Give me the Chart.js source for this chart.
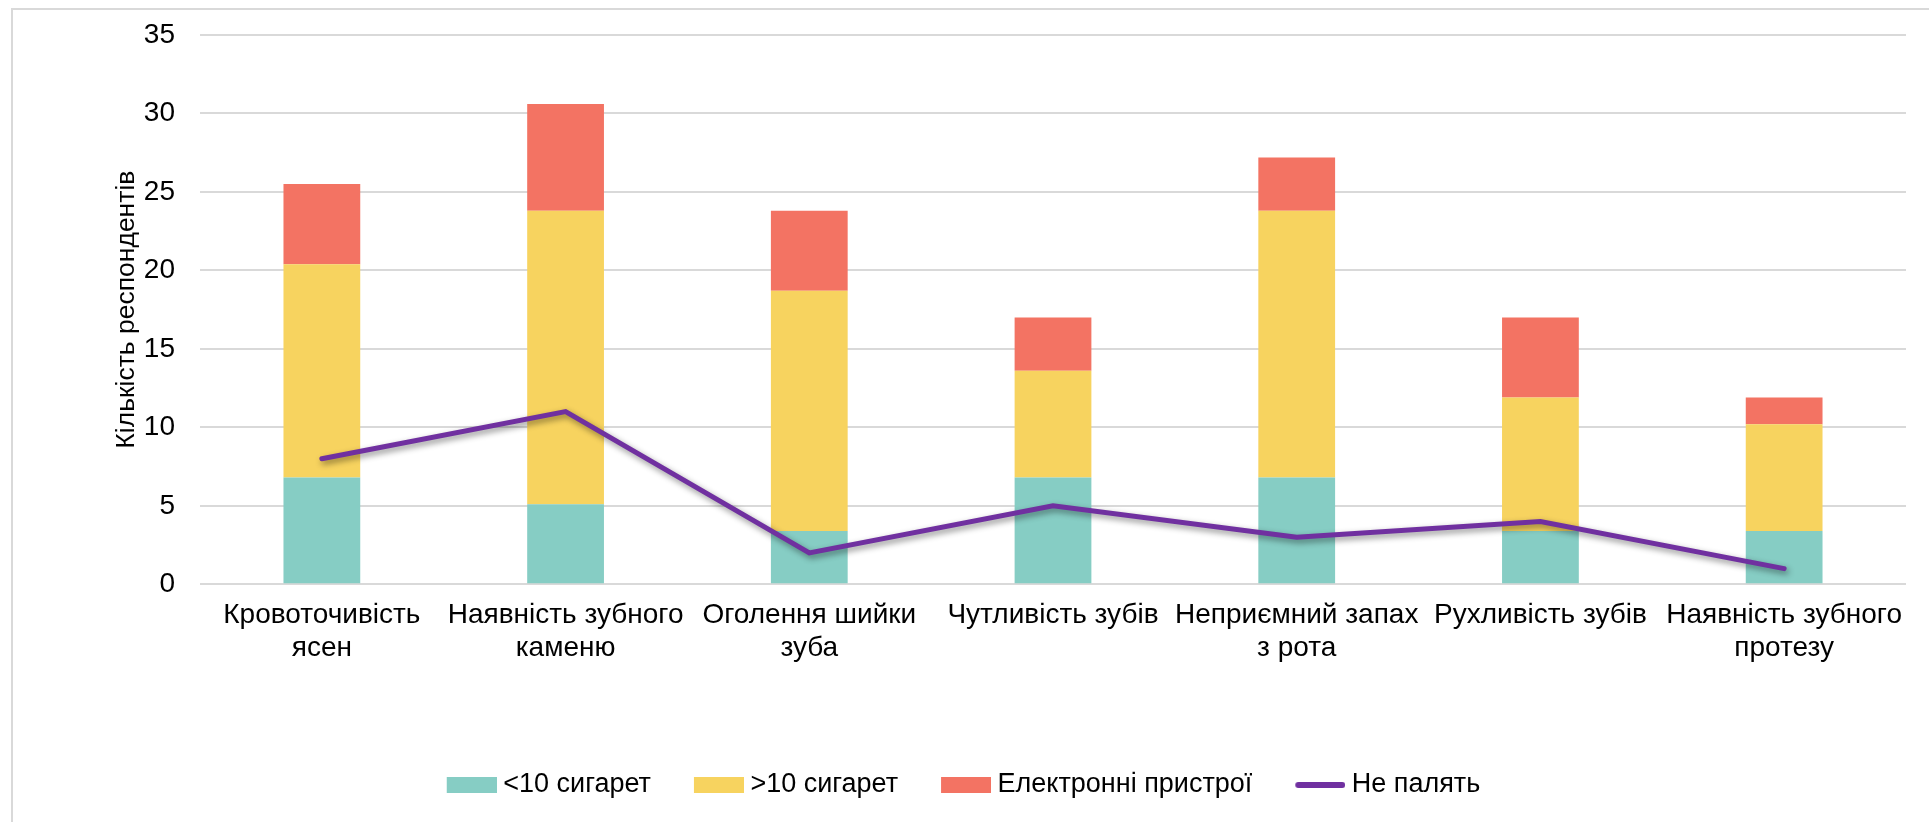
<!DOCTYPE html>
<html><head><meta charset="utf-8">
<script src="https://cdn.jsdelivr.net/npm/chart.js@4.4.0/dist/chart.umd.min.js"></script>
<style>html,body{margin:0;padding:0;background:#fff;overflow:hidden}</style>
</head><body>
<canvas id="c" width="1929" height="822" style="display:block;width:1929px;height:822px"></canvas>
<script>
const categories = [["Кровоточивість","ясен"],["Наявність зубного","каменю"],["Оголення шийки","зуба"],["Чутливість зубів"],["Неприємний запах","з рота"],["Рухливість зубів"],["Наявність зубного","протезу"]];
const lessThan10 = [6.8, 5.1, 3.4, 6.8, 6.8, 3.4, 3.4];
const moreThan10 = [13.6, 18.7, 15.3, 6.8, 17.0, 8.5, 6.8];
const electronic = [5.1, 6.8, 5.1, 3.4, 3.4, 5.1, 1.7];
const nonSmokers = [8, 11, 2, 5, 3, 4, 1];
const seriesNames = ["<10 сигарет", ">10 сигарет", "Електронні пристрої", "Не палять"];
const yMin = 0, yMax = 35, yStep = 5;
const yTitle = "Кількість респондентів";

const colors = ['#86CDC4', '#F7D35F', '#F37363', '#7030A0'];
const FONT = "'Liberation Sans', Arial, sans-serif";

function swatch(color, kind) {
  const c = document.createElement('canvas');
  c.width = 57; c.height = 16;
  const x = c.getContext('2d');
  if (kind === 'bar') { x.fillStyle = color; x.fillRect(7, 0, 50, 16); }
  else { x.strokeStyle = color; x.lineWidth = 6; x.lineCap = 'round'; x.beginPath(); x.moveTo(10, 8); x.lineTo(54, 8); x.stroke(); }
  return c;
}
const swatches = [swatch(colors[0],'bar'), swatch(colors[1],'bar'), swatch(colors[2],'bar'), swatch(colors[3],'line')];

const framePlugin = {
  id: 'frame',
  beforeDraw(chart) {
    const ctx = chart.ctx;
    ctx.save();
    ctx.fillStyle = '#fff';
    ctx.fillRect(0, 0, chart.width, chart.height);
    ctx.strokeStyle = '#d9d9d9';
    ctx.lineWidth = 2;
    ctx.strokeRect(12, 9, chart.width + 40, chart.height + 40);
    ctx.restore();
  }
};
const shadowPlugin = {
  id: 'lineShadow',
  beforeDatasetDraw(chart, args) {
    if (args.index === 3) {
      const ctx = chart.ctx;
      ctx.save();
      ctx.shadowColor = 'rgba(0,0,0,0.45)';
      ctx.shadowBlur = 6;
      ctx.shadowOffsetX = 2;
      ctx.shadowOffsetY = 3;
    }
  },
  afterDatasetDraw(chart, args) {
    if (args.index === 3) chart.ctx.restore();
  }
};

new Chart(document.getElementById('c'), {
  type: 'bar',
  data: {
    labels: categories,
    datasets: [
      { label: seriesNames[0], data: lessThan10, backgroundColor: colors[0], stack: 's', order: 1, barPercentage: 0.315, categoryPercentage: 1 },
      { label: seriesNames[1], data: moreThan10, backgroundColor: colors[1], stack: 's', order: 1, barPercentage: 0.315, categoryPercentage: 1 },
      { label: seriesNames[2], data: electronic, backgroundColor: colors[2], stack: 's', order: 1, barPercentage: 0.315, categoryPercentage: 1 },
      { type: 'line', label: seriesNames[3], data: nonSmokers, borderColor: colors[3], backgroundColor: colors[3], borderWidth: 5, pointRadius: 0, borderCapStyle: 'round', borderJoinStyle: 'miter', tension: 0, stack: 'line', order: 0 }
    ]
  },
  options: {
    responsive: false,
    animation: false,
    devicePixelRatio: 1,
    layout: { padding: { left: 21, right: 23, top: 35, bottom: 13.5 } },
    plugins: {
      tooltip: { enabled: false },
      legend: {
        position: 'bottom',
        labels: {
          usePointStyle: true,
          pointStyleWidth: 43,
          padding: 43,
          color: '#000',
          font: { family: FONT, size: 27 },
          generateLabels(chart) {
            const items = Chart.defaults.plugins.legend.labels.generateLabels(chart);
            items.sort((a, b) => a.datasetIndex - b.datasetIndex);
            items.forEach(it => { it.pointStyle = swatches[it.datasetIndex]; it.lineWidth = 0; });
            return items;
          }
        }
      }
    },
    scales: {
      x: {
        stacked: true,
        grid: { display: false, drawTicks: false },
        border: { display: false },
        ticks: { color: '#000', padding: 14, maxRotation: 0, autoSkip: false, font: { family: FONT, size: 28, lineHeight: 1.2 } },
        afterFit(s) { s.height = 144.2; }
      },
      y: {
        stacked: true,
        min: yMin, max: yMax,
        grid: { color: '#d9d9d9', lineWidth: 2, drawTicks: true, tickLength: 25, tickColor: 'rgba(0,0,0,0)' },
        border: { display: false },
        ticks: { stepSize: yStep, color: '#000', padding: 0, font: { family: FONT, size: 28 } },
        title: { display: true, text: yTitle, color: '#000', font: { family: FONT, size: 26.5 }, padding: { top: 90, bottom: 0 } },
        afterFit(s) { s.width = 179; }
      }
    }
  },
  plugins: [framePlugin, shadowPlugin]
});
</script>
</body></html>
